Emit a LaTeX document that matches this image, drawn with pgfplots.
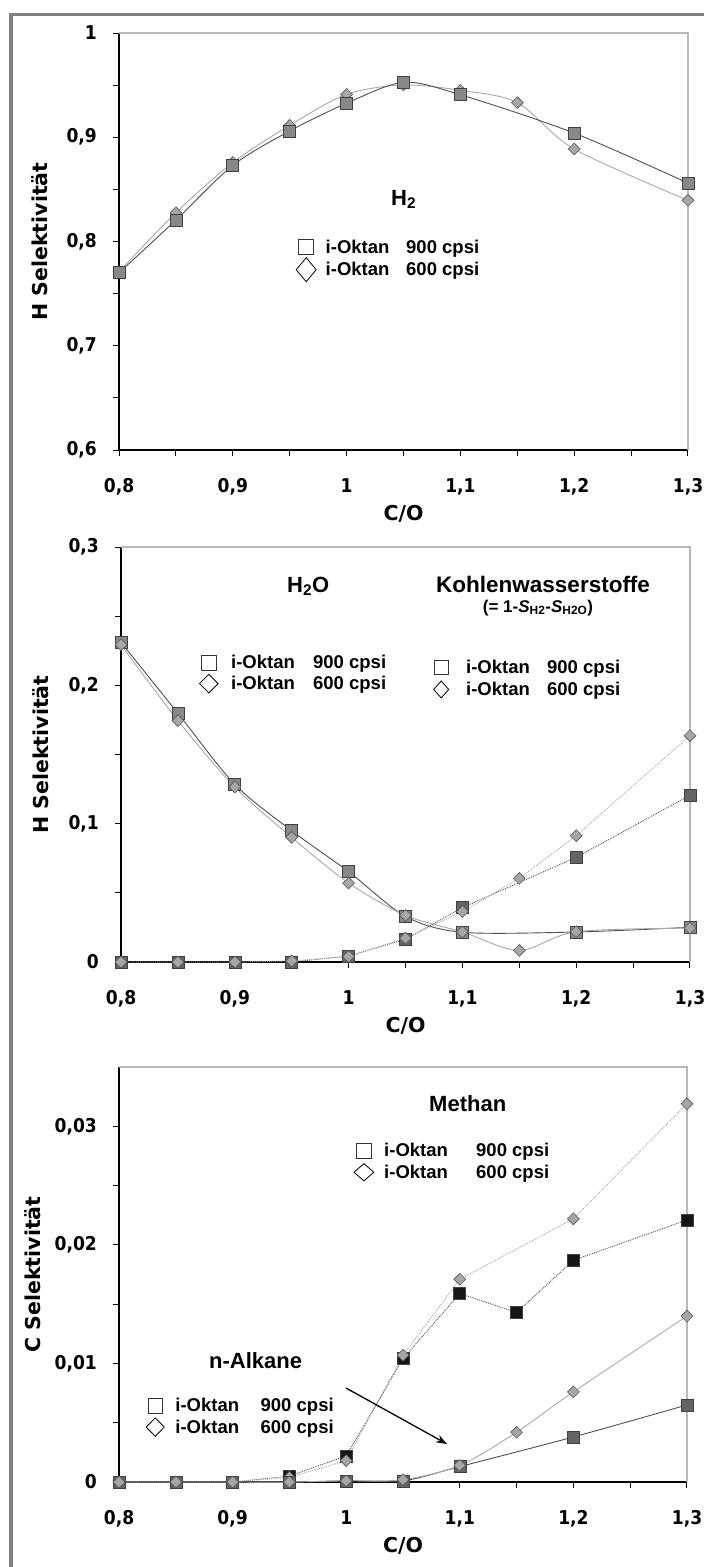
\documentclass[border=0pt]{standalone}
\usepackage{pgfplots}
\pgfplotsset{compat=1.18}
\usepackage{fontspec}
\setmainfont{Liberation Sans}
\newfontfamily\dejavu{DejaVu Sans}
\newfontfamily\tickfont[FakeStretch=0.9]{DejaVu Sans}
\usetikzlibrary{arrows.meta}

\definecolor{framegray}{HTML}{808080}
\definecolor{boxgray}{HTML}{B8B8B8}
\definecolor{darkline}{HTML}{505050}
\definecolor{lightline}{HTML}{A8A8A8}
\definecolor{sqfill}{HTML}{888888}
\definecolor{sqfilldark}{HTML}{646464}
\definecolor{sqblack}{HTML}{161616}
\definecolor{dmfill}{HTML}{A6A6A6}

\pgfplotsset{
  panel/.style={
    scale only axis, anchor=south west,
    xmin=0.8, xmax=1.3,
    xtick={0.8,0.9,1,1.1,1.2,1.3},
    xticklabels={{0,8},{0,9},1,{1,1},{1,2},{1,3}},
    minor x tick num=1, minor y tick num=1,
    scaled y ticks=false,
    axis x line*=bottom, axis y line*=left,
    axis line style={-, line width=1.2pt, black},
    tick align=outside,
    major tick length=6pt, minor tick length=6pt,
    tick style={black, line width=1pt},
    tick label style={font=\tickfont\bfseries\fontsize{19}{19}\selectfont, inner sep=0pt},
    xticklabel style={anchor=base, yshift=-36pt},
    yticklabel style={anchor=east, xshift=-16pt},
    label style={font=\dejavu\bfseries\fontsize{20.5}{20.5}\selectfont},
    xlabel={C/O},
    clip=false,
    legend cell align=left,
    legend image code/.code={\draw[##1] plot coordinates {(0pt,0pt)};},
    legend style={draw=none, fill=none, inner sep=0pt, anchor=north west,
      font=\bfseries\fontsize{18.5}{18.5}\selectfont,
      nodes={inner sep=0pt}},
  },
  hidden/.style={
    scale only axis, anchor=south west, hide axis,
    xmin=0.8, xmax=1.3, clip=false,
    legend cell align=left,
    legend image code/.code={\draw[##1] plot coordinates {(0pt,0pt)};},
    legend style={draw=none, fill=none, inner sep=0pt, anchor=north west,
      font=\bfseries\fontsize{18.5}{18.5}\selectfont,
      nodes={inner sep=0pt}},
  },
  sqdark/.style={darkline, line width=0.9pt, mark=square*, mark size=6pt,
    mark options={solid, fill=#1, draw=black!75, line width=0.6pt}},
  dmlight/.style={lightline, line width=0.9pt, mark=square*, mark size=4.2pt,
    mark options={solid, rotate=45, fill=dmfill, draw=black!65, line width=0.6pt}},
  legsq/.style={only marks, mark=square*, mark size=#1,
    mark options={fill=white, draw=black!80, line width=0.8pt}},
  legdm/.style 2 args={only marks, mark=square*, mark size=#1,
    mark options={yscale=#2, rotate=45, fill=white, draw=black, line width=0.8pt}},
}

\begin{document}
\begin{tikzpicture}[x=1pt,y=1pt]
\path[use as bounding box] (0,0) rectangle (704,-1567);
\draw[framegray, line width=3.6pt] (10.8,-1567) -- (10.8,-14.6) -- (704,-14.6);

% ---------------- Panel 1: H2 ----------------
\begin{axis}[panel, at={(119pt,-450pt)}, width=569pt, height=417pt,
  ymin=0.6, ymax=1,
  ytick={0.6,0.7,0.8,0.9,1},
  yticklabels={{0,6},{0,7},{0,8},{0,9},1},
  ylabel={H Selektivität},
  ylabel style={at={(axis description cs:-0.1265,0.5)}, anchor=base},
  xlabel style={at={(axis description cs:0.5,-0.168)}, anchor=base},
  legend style={at={(0.3111,0.5048)}, column sep=9.5pt, row sep=3pt}]
\draw[boxgray, line width=2pt] (rel axis cs:0,1) -- (rel axis cs:1,1) -- (rel axis cs:1,0);
\addplot[dmlight, smooth, forget plot] coordinates {
 (0.8,0.771) (0.85,0.8276) (0.9,0.8758) (0.95,0.9114) (1.0,0.9412)
 (1.05,0.9501) (1.1,0.945) (1.15,0.9332) (1.2,0.8887) (1.3,0.8395)};
\addplot[sqdark=sqfill, smooth, forget plot] coordinates {
 (0.8,0.770) (0.85,0.8206) (0.9,0.873) (0.95,0.906) (1.0,0.9326)
 (1.05,0.9527) (1.1,0.9408) (1.2,0.904) (1.3,0.856)};
\addlegendimage{legsq=7.5pt}
\addlegendentry{\makebox[80.5pt][l]{i-Oktan}900 cpsi}
\addlegendimage{legdm={7.07pt}{1.2}}
\addlegendentry{\makebox[80.5pt][l]{i-Oktan}600 cpsi}
\end{axis}

% ---------------- Panel 2: H2O + KW ----------------
\begin{axis}[panel, at={(121pt,-962pt)}, width=569pt, height=415pt,
  ymin=0, ymax=0.3,
  ytick={0,0.1,0.2,0.3},
  yticklabels={0,{0,1},{0,2},{0,3}},
  ylabel={H Selektivität},
  ylabel style={at={(axis description cs:-0.128,0.5)}, anchor=base},
  xlabel style={at={(axis description cs:0.5,-0.171)}, anchor=base},
  legend style={at={(0.1376,0.740)}, column sep=13pt, row sep=4.2pt}]
\draw[boxgray, line width=2pt] (rel axis cs:0,1) -- (rel axis cs:1,1) -- (rel axis cs:1,0);
\addplot[sqdark=sqfill, smooth, forget plot] coordinates {
 (0.8,0.2311) (0.85,0.1798) (0.9,0.1284) (0.95,0.0949) (1.0,0.0653)
 (1.05,0.0330) (1.1,0.0215) (1.2,0.0217) (1.3,0.0251)};
\addplot[dmlight, smooth, forget plot] coordinates {
 (0.8,0.2294) (0.85,0.1745) (0.9,0.1265) (0.95,0.0901) (1.0,0.0571)
 (1.05,0.0337) (1.1,0.0217) (1.15,0.0084) (1.2,0.0219) (1.3,0.0245)};
\addlegendimage{legsq=7.5pt}
\addlegendentry{\makebox[82pt][l]{i-Oktan}900 cpsi}
\addlegendimage{legdm={6.6pt}{1.0}}
\addlegendentry{\makebox[82pt][l]{i-Oktan}600 cpsi}
\end{axis}
\begin{axis}[hidden, at={(121pt,-962pt)}, width=569pt, height=415pt,
  ymin=0, ymax=0.3,
  legend style={at={(0.5492,0.728)}, column sep=17.5pt, row sep=6pt}]
\addplot[sqdark=sqfilldark, densely dotted, forget plot] coordinates {
 (0.8,0) (0.85,0) (0.9,0) (0.95,0) (1.0,0.0043)
 (1.05,0.0164) (1.1,0.0393) (1.2,0.0757) (1.3,0.1205)};
\addplot[dmlight, densely dotted, forget plot] coordinates {
 (0.8,0) (0.85,0) (0.9,0) (0.95,0.0008) (1.0,0.004)
 (1.05,0.0173) (1.1,0.0364) (1.15,0.0605) (1.2,0.0913) (1.3,0.1636)};
\addlegendimage{legsq=7pt}
\addlegendentry{\makebox[81pt][l]{i-Oktan}900 cpsi}
\addlegendimage{legdm={5.3pt}{1.13}}
\addlegendentry{\makebox[81pt][l]{i-Oktan}600 cpsi}
\end{axis}

% ---------------- Panel 3: Methan + n-Alkane ----------------
\begin{axis}[panel, at={(119pt,-1482pt)}, width=568pt, height=415pt,
  ymin=0, ymax=0.035,
  ytick={0,0.01,0.02,0.03},
  yticklabels={0,{0,01},{0,02},{0,03}},
  ylabel={C Selektivität},
  ylabel style={at={(axis description cs:-0.139,0.5)}, anchor=base},
  xlabel style={at={(axis description cs:0.5,-0.171)}, anchor=base},
  legend style={at={(0.4134,0.8163)}, column sep=10.4pt, row sep=5.3pt}]
\draw[boxgray, line width=2pt] (rel axis cs:0,1) -- (rel axis cs:1,1) -- (rel axis cs:1,0);
\addplot[sqdark=sqblack, densely dotted, forget plot] coordinates {
 (0.8,0) (0.85,0) (0.9,0) (0.95,0.0005) (1.0,0.0022)
 (1.05,0.0104) (1.1,0.0159) (1.15,0.0143) (1.2,0.0187) (1.3,0.0221)};
\addplot[dmlight, densely dotted, forget plot] coordinates {
 (0.8,0) (0.85,0) (0.9,0) (0.95,0.0004) (1.0,0.0018)
 (1.05,0.0107) (1.1,0.0171) (1.2,0.0222) (1.3,0.0319)};
\addlegendimage{legsq=7.2pt}
\addlegendentry{\makebox[92pt][l]{i-Oktan}900 cpsi}
\addlegendimage{legdm={7pt}{0.87}}
\addlegendentry{\makebox[92pt][l]{i-Oktan}600 cpsi}
\end{axis}
\begin{axis}[hidden, at={(119pt,-1482pt)}, width=568pt, height=415pt,
  ymin=0, ymax=0.035,
  legend style={at={(0.0475,0.2018)}, column sep=11.1pt, row sep=4.5pt}]
\addplot[sqdark=sqfilldark, smooth, forget plot] coordinates {
 (0.8,0) (0.85,0) (0.9,0) (0.95,0) (1.0,0.0001)
 (1.05,0.0001) (1.1,0.0013) (1.2,0.0038) (1.3,0.0065)};
\addplot[dmlight, smooth, forget plot] coordinates {
 (0.8,0) (0.85,0) (0.9,0) (0.95,0) (1.0,0.0001)
 (1.05,0.0002) (1.1,0.0014) (1.15,0.0042) (1.2,0.0076) (1.3,0.0140)};
\addlegendimage{legsq=7.2pt}
\addlegendentry{\makebox[85.3pt][l]{i-Oktan}900 cpsi}
\addlegendimage{legdm={6.4pt}{1.02}}
\addlegendentry{\makebox[85.3pt][l]{i-Oktan}600 cpsi}
\end{axis}

% ---------------- annotations ----------------
\begin{scope}[every node/.style={inner sep=0pt, anchor=base west}]
\node[font=\bfseries\fontsize{22}{22}\selectfont] at (391,-205) {H\textsubscript{2}};
\node[font=\bfseries\fontsize{22}{22}\selectfont] at (287,-592) {H\textsubscript{2}O};
\node[font=\bfseries\fontsize{22.5}{22.5}\selectfont] at (436,-592) {Kohlenwasserstoffe};
\node[font=\bfseries\fontsize{17}{17}\selectfont, anchor=base] at (538,-612) {(= 1-\textit{S}\textsubscript{H2}-\textit{S}\textsubscript{H2O})};
\node[font=\bfseries\fontsize{22}{22}\selectfont] at (429,-1111) {Methan};
\node[font=\bfseries\fontsize{22}{22}\selectfont] at (209,-1368) {n-Alkane};
\end{scope}
\draw[-{Stealth[length=11pt,width=8pt]}, line width=1.3pt] (346,-1388) -- (447,-1444);
\end{tikzpicture}
\end{document}
